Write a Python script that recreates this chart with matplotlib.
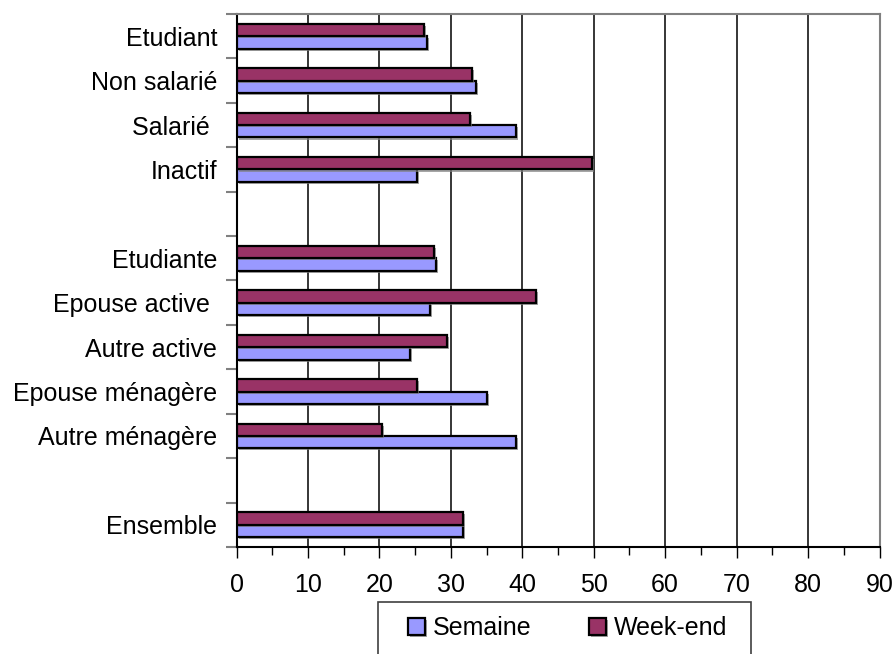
import numpy as np
import matplotlib
matplotlib.use("Agg")
import matplotlib.pyplot as plt
from matplotlib.patches import Rectangle
import matplotlib.patheffects as pe

plt.rcParams['font.family'] = ['Liberation Sans', 'DejaVu Sans']

categories = ["Etudiant", "Non salarié", "Salarié ", "Inactif", "",
              "Etudiante", "Epouse active ", "Autre active", "Epouse ménagère",
              "Autre ménagère", "", "Ensemble"]
semaine = [26.6, 33.5, 39.1, 25.2, np.nan,
           27.9, 27.1, 24.3, 35.0, 39.1, np.nan, 31.7]
weekend = [26.2, 33.0, 32.7, 49.8, np.nan,
           27.6, 41.9, 29.4, 25.2, 20.4, np.nan, 31.7]
series_names = ["Semaine", "Week-end"]
xticks = [0, 10, 20, 30, 40, 50, 60, 70, 80, 90]

c_sem = "#9999FF"
c_we = "#993366"
FS = 18

fig = plt.figure(figsize=(8.96, 6.54), dpi=100)
ax = fig.add_axes([236.5/896, 1-547/654, (879.5-236.5)/896, (547-14)/654])

y = np.arange(len(categories))
h = 0.28
fx = [pe.SimplePatchShadow(offset=(1.5, -1.5), shadow_rgbFace='#808080', alpha=0.7), pe.Normal()]
b1 = ax.barh(y + h/2, semaine, height=h, color=c_sem, edgecolor='black', linewidth=1.6,
             label=series_names[0], zorder=3)
b2 = ax.barh(y - h/2, weekend, height=h, color=c_we, edgecolor='black', linewidth=1.6,
             label=series_names[1], zorder=3)
for b in list(b1) + list(b2):
    b.set_path_effects(fx)

ax.set_xlim(0, 90)
ax.set_ylim(len(categories) - 0.5, -0.5)

ax.set_xticks(xticks)
ax.set_xticklabels([str(t) for t in xticks], fontsize=FS)
ax.set_xticks(np.arange(5, 90, 10), minor=True)
ax.tick_params(axis='x', which='major', direction='out', length=8, width=1, color='black', pad=11)
ax.tick_params(axis='x', which='minor', direction='out', length=6, width=1, color='black')

ax.set_yticks(np.arange(-0.5, len(categories), 1.0))
ax.set_yticklabels([])
ax.set_yticks(y, minor=True)
ax.set_yticklabels(categories, minor=True, fontsize=FS)
ax.tick_params(axis='y', which='major', direction='out', length=8, width=1.5, color='#808080')
ax.tick_params(axis='y', which='minor', length=0, pad=14)

for xv in xticks[1:-1]:
    ax.axvline(xv, color='black', linewidth=1.1, zorder=1)

ax.spines['left'].set_color('black')
ax.spines['bottom'].set_color('black')
ax.spines['top'].set_color('#808080')
ax.spines['right'].set_color('#808080')
for s in ax.spines.values():
    s.set_linewidth(1.5)

# legend
fig.patches.append(Rectangle((378/896, 1 - 670/654), (751-378)/896, (670-602)/654,
                             transform=fig.transFigure, facecolor='white',
                             edgecolor='#404040', linewidth=1.2, zorder=5))
leg = fig.legend(handles=[b1, b2], labels=series_names, loc='center',
                 bbox_to_anchor=(568/896, 1 - 628/654), ncol=2, frameon=False,
                 fontsize=FS, handlelength=0.65, handleheight=0.65, handletextpad=0.35,
                 columnspacing=2.3)
leg.set_zorder(6)

fig.savefig("out.png", dpi=100)
